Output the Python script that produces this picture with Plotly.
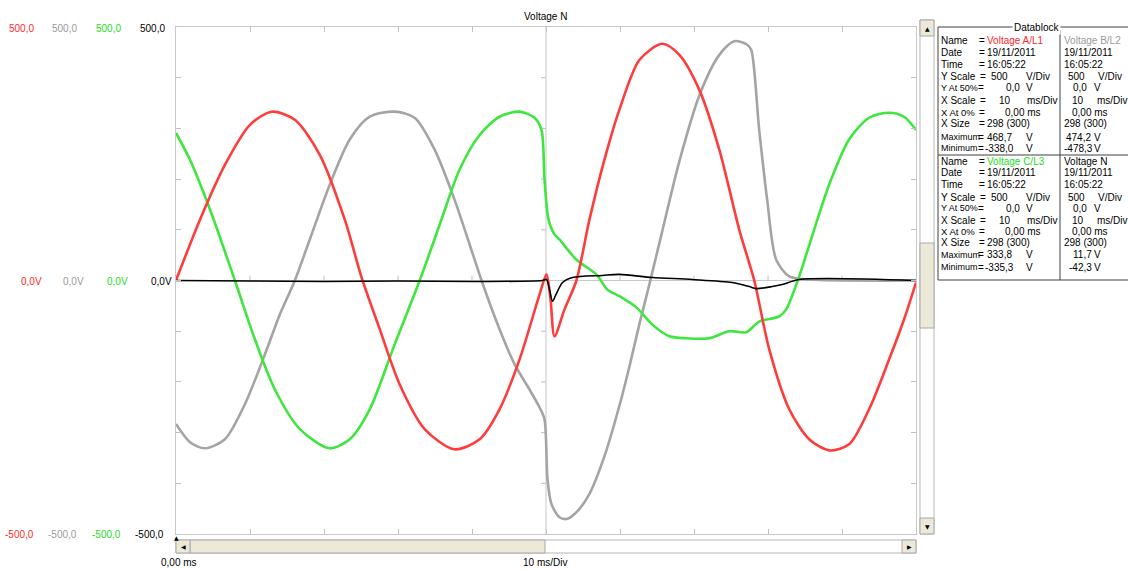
import plotly.graph_objects as go

# ---------------- data (time in ms, voltage in V) ----------------
red_t = [0, 3.24, 6.61, 9.99, 12.96, 16.06, 19.43, 22.81, 25.10, 27.53, 30.23, 33.60, 37.65,
         41.03, 43.72, 46.42, 49.12, 50.07, 50.61, 51.15, 52.50, 54.11, 55.87, 57.89, 59.92,
         62.62, 65.72, 68.02, 70.72, 73.42, 76.12, 78.14, 80.17, 82.87, 85.56, 88.26, 90.96,
         93.66, 96.36, 98.38, 100]
red_v = [0, 120, 228, 307, 333, 317, 248, 120, 5, -96, -205, -293, -333,
         -313, -254, -156, -28, 12, -37, -110, -57, 0, 120, 238, 337,
         435, 467, 445, 376, 258, 100, 0, -136, -254, -313, -335, -323,
         -254, -156, -77, -4]

gray_t = [0, 1.89, 3.91, 6.61, 9.31, 12.01, 14.03, 16.06, 18.08, 20.78, 23.48, 26.18, 29.55,
          32.25, 34.95, 37.65, 39.68, 41.29, 43.72, 45.75, 47.77, 49.12, 49.80, 50.20, 50.74,
          51.82, 52.90, 54.25, 55.87, 57.89, 59.92, 61.27, 62.62, 64.10, 65.59, 68.02, 70.72,
          73.42, 75.44, 77.19, 77.73, 78.81, 79.89, 81.11, 82.87, 85.56, 100]
gray_v = [-283, -319, -331, -313, -244, -146, -67, 0, 81, 189, 278, 323, 333,
          321, 258, 159, 71, 0, -96, -165, -215, -250, -274, -392, -441,
          -467, -470, -455, -421, -347, -247, -170, -86, 0, 90, 235, 365,
          445, 472, 465, 455, 297, 159, 41, 8, 2, 0]

green_t = [0, 1.89, 4.59, 7.96, 10.66, 13.36, 16.73, 20.78, 23.48, 26.18, 29.55, 32.93, 35.63,
           38.33, 41.03, 43.72, 46.42, 48.45, 49.39, 49.80, 50.34, 51.15, 51.82, 54.11, 56.81,
           58.30, 59.92, 62.21, 64.37, 66.67, 68.96, 72.06, 74.76, 77.06, 78.81, 81.51, 82.46,
           84.21, 86.23, 88.26, 90.96, 93.66, 96.36, 98.38, 100]
green_v = [291, 238, 140, 0, -116, -215, -293, -331, -313, -254, -126, 0, 110,
           219, 287, 323, 333, 321, 297, 199, 120, 91, 81, 41, 12,
           -18, -31, -53, -87, -110, -114, -114, -100, -102, -81, -71, -57,
           8, 100, 189, 278, 321, 331, 323, 297]

neutral_t = [0, 10, 20, 30, 40, 49.5, 50.07, 50.47, 50.88, 51.28, 52.23, 53.58, 57.62,
             59.92, 64.37, 69.77, 75.17, 77.46, 78.41, 80.57, 81.92, 84.21, 100]
neutral_v = [0, -1, -2, -1, -2, 0, 2, -18, -41, -30, -4, 6, 10,
             12, 6, 2, -4, -12, -16, -12, -8, 2, 0]

series_names = ["Voltage B/L2", "Voltage C/L3", "Voltage A/L1", "Voltage N"]
series_colors = ["#a4a4a4", "#3fe63f", "#ff3c3c", "#000000"]
label_colors = ["#ff2a2a", "#9a9a9a", "#22dd22", "#000000"]

x_ticks = [10, 20, 30, 40, 50, 60, 70, 80, 90]
y_ticks = [-400, -300, -200, -100, 0, 100, 200, 300, 400]
top_labels = ["500,0", "500,0", "500,0", "500,0"]
mid_labels = ["0,0V", "0,0V", "0,0V", "0,0V"]
bot_labels = ["-500,0", "-500,0", "-500,0", "-500,0"]

row_labels = ["Name", "Date", "Time", "Y Scale", "Y At 50%", "X Scale", "X At 0%",
              "X Size", "Maximum", "Minimum"]
row_label_sizes = [10, 10, 10, 10, 9, 10, 9.5, 10, 9, 9]
eq_x = [978, 978, 978, 979, 977, 979, 978, 978, 977, 977]
blk1_col1 = [[(986, "Voltage A/L1")], [(986, "19/11/2011")], [(986, "16:05:22")],
             [(990, "500"), (1025, "V/Div")], [(1005, "0,0"), (1025, "V")],
             [(998, "10"), (1026, "ms/Div")], [(1004, "0,00 ms")], [(986, "298 (300)")],
             [(986, "468,7"), (1025, "V")], [(984, "-338,0"), (1025, "V")]]
blk1_col2 = [[(1063, "Voltage B/L2")], [(1063, "19/11/2011")], [(1063, "16:05:22")],
             [(1067, "500"), (1097, "V/Div")], [(1072, "0,0"), (1093, "V")],
             [(1071, "10"), (1096, "ms/Div")], [(1071, "0,00 ms")], [(1063, "298 (300)")],
             [(1065, "474,2"), (1093, "V")], [(1063, "-478,3"), (1093, "V")]]
blk2_col1 = [[(986, "Voltage C/L3")], [(986, "19/11/2011")], [(986, "16:05:22")],
             [(990, "500"), (1025, "V/Div")], [(1005, "0,0"), (1025, "V")],
             [(998, "10"), (1026, "ms/Div")], [(1004, "0,00 ms")], [(986, "298 (300)")],
             [(986, "333,8"), (1025, "V")], [(984, "-335,3"), (1025, "V")]]
blk2_col2 = [[(1063, "Voltage N")], [(1063, "19/11/2011")], [(1063, "16:05:22")],
             [(1067, "500"), (1097, "V/Div")], [(1072, "0,0"), (1093, "V")],
             [(1071, "10"), (1096, "ms/Div")], [(1071, "0,00 ms")], [(1063, "298 (300)")],
             [(1072, "11,7"), (1093, "V")], [(1068, "-42,3"), (1093, "V")]]
blk1_rows_y = [40, 52, 64, 77, 88, 101, 113, 124, 137, 148]
blk2_rows_y = [161, 172, 184, 197, 208, 221, 232, 243, 255, 267]
name_colors_1 = ["#ff2a2a", "#9a9a9a"]
name_colors_2 = ["#22dd22", "#000000"]

# ---------------- layout geometry (pixels) ----------------
W, H = 1128, 570
L, R, T, B = 176, 916, 27, 534
FONT = "Liberation Sans, Arial, sans-serif"


def px(x):
    return (x - L) / (R - L)


def py(y):
    return (B - y) / (B - T)


fig = go.Figure()
for t, v, name, col in zip([gray_t, green_t, red_t, neutral_t],
                           [gray_v, green_v, red_v, neutral_v],
                           series_names, series_colors):
    fig.add_trace(go.Scatter(x=t, y=v, mode="lines", name=name,
                             line=dict(color=col, width=1.6 if col == "#000000" else 2.6,
                                       shape="spline", smoothing=0.8),
                             hoverinfo="skip"))

shapes = []
ann = []


def text(txt, x, y, anchor="left", size=10, color="#000", family=FONT, **kw):
    ann.append(dict(text=txt, xref="paper", yref="paper", x=px(x), y=py(y),
                    xanchor=anchor, yanchor="middle", showarrow=False,
                    font=dict(family=family, size=size, color=color), **kw))


# center crosshair
shapes.append(dict(type="line", xref="x", yref="paper", x0=50, x1=50, y0=0, y1=1,
                   line=dict(color="#c8c8c8", width=1), layer="below"))
for v in y_ticks:
    shapes.append(dict(type="line", xref="x", yref="y", xsizemode="pixel", xanchor=50,
                       x0=-5, x1=0, y0=v, y1=v, line=dict(color="#c0c0c0", width=1),
                       layer="below"))
for t in x_ticks:
    shapes.append(dict(type="line", xref="x", yref="y", ysizemode="pixel", yanchor=0,
                       y0=0, y1=5, x0=t, x1=t, line=dict(color="#c0c0c0", width=1),
                       layer="below"))

# left axis labels
for i, (lt, lm, lb) in enumerate(zip(top_labels, mid_labels, bot_labels)):
    text(lt, [36, 79, 123, 167][i], 28, "right", color=label_colors[i])
    text(lm, [44, 86, 130, 174][i], 281, "right", color=label_colors[i])
    text(lb, [36, 79, 123, 166][i], 534, "right", color=label_colors[i])

# title and bottom texts
text("Voltage N", 545, 17, "center")
text("0,00 ms", 159, 562, "left")
text("10 ms/Div", 545, 562, "center")
text("▲", 176, 537, "center", size=6, family="DejaVu Sans")


def rect(x0, y0, x1, y1, fill, line="#a0a0a0"):
    shapes.append(dict(type="rect", xref="paper", yref="paper", x0=px(x0), x1=px(x1),
                       y0=py(y1), y1=py(y0), fillcolor=fill,
                       line=dict(color=line, width=1), layer="above"))


def seg(x0, y0, x1, y1, col="#404040"):
    shapes.append(dict(type="line", xref="paper", yref="paper", x0=px(x0), x1=px(x1),
                       y0=py(y0), y1=py(y1), line=dict(color=col, width=1), layer="above"))


SB = "#ece9d8"
# horizontal scrollbar
rect(176, 540, 916, 553, "#ffffff", "#b8b8b8")
rect(190, 540, 545, 553, SB, "#a8a8a8")
rect(176, 540, 190, 553, SB, "#a8a8a8")
rect(902, 540, 916, 553, SB, "#a8a8a8")
text("◀", 183, 546.5, "center", size=6, family="DejaVu Sans")
text("▶", 909, 546.5, "center", size=6, family="DejaVu Sans")
# vertical scrollbar
rect(920, 20, 934, 534, "#ffffff", "#b8b8b8")
rect(920, 243, 934, 328, SB, "#a8a8a8")
rect(920, 20, 934, 36, SB, "#a8a8a8")
rect(920, 518, 934, 534, SB, "#a8a8a8")
text("▲", 927, 28, "center", size=6, family="DejaVu Sans")
text("▼", 927, 526, "center", size=6, family="DejaVu Sans")

# datablock frame
seg(938, 27, 938, 280)
seg(938, 27, 1130, 27)
seg(938, 280, 1130, 280)
seg(938, 155, 1130, 155)
seg(1060, 30, 1060, 280)
text("Datablock", 1036, 27, "center", bgcolor="#ffffff")

for rows_y, c1, c2, ncols in [(blk1_rows_y, blk1_col1, blk1_col2, name_colors_1),
                              (blk2_rows_y, blk2_col1, blk2_col2, name_colors_2)]:
    for r, yy in enumerate(rows_y):
        text(row_labels[r], 939, yy, "left", size=row_label_sizes[r])
        text("=", eq_x[r] - 1, yy, "left")
        for ci, col in enumerate([c1, c2]):
            for (xx, txt) in col[r]:
                color = ncols[ci] if r == 0 else "#000"
                text(txt, xx - 1, yy, "left", color=color)

axis_common = dict(showgrid=False, showticklabels=False, ticks="inside", ticklen=5,
                   tickcolor="#c0c0c0", showline=True, linecolor="#c8c8c8", linewidth=1,
                   mirror="ticks", fixedrange=True)
fig.update_layout(
    width=W, height=H, margin=dict(l=L, r=W - R, t=T, b=H - B),
    paper_bgcolor="#ffffff", plot_bgcolor="#ffffff", showlegend=False,
    xaxis=dict(range=[0, 100], tickvals=x_ticks, zeroline=False, **axis_common),
    yaxis=dict(range=[-500, 500], tickvals=y_ticks, zeroline=True, zerolinecolor="#c8c8c8",
               zerolinewidth=1, **axis_common),
    shapes=shapes, annotations=ann,
)

fig.write_html("out.html", config={"displayModeBar": False},
               post_script="document.body.style.margin='0';document.body.style.overflow='hidden';")
